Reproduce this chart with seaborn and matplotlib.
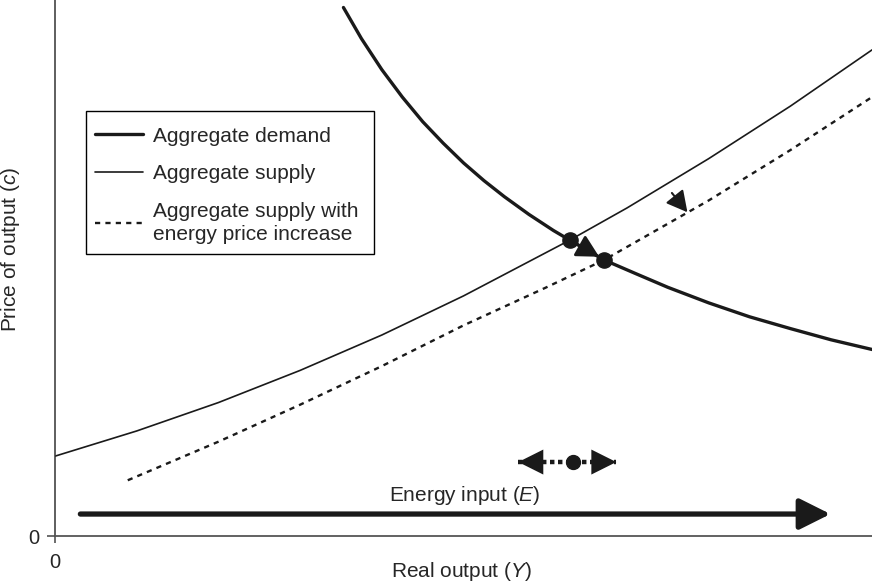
import numpy as np
import pandas as pd
import matplotlib
matplotlib.use("Agg")
import matplotlib.pyplot as plt
import matplotlib.patches as mpatches
import seaborn as sns

# Curves (x: real output, y: price of output, 0-100 scale)
demand_x = [35.3, 37.5, 40, 42.5, 45, 47.5, 50, 52.5, 55, 58, 61, 63.0, 67.2, 71, 75, 80, 85, 90, 95, 100]
demand_y = [98.6, 92.8, 87.0, 81.9, 77.3, 73.3, 69.6, 66.3, 63.3, 60.0, 57.0, 55.2, 51.5, 49.0, 46.4, 43.5, 40.9, 38.7, 36.6, 34.8]

supply_x = [0, 10, 20, 30, 40, 50, 63.0, 70, 80, 90, 100]
supply_y = [14.9, 19.6, 24.9, 30.9, 37.5, 44.8, 55.2, 61.2, 70.4, 80.2, 90.7]

supply_e_x = [8.9, 20, 30, 40, 50, 60, 67.2, 80, 90, 100]
supply_e_y = [10.4, 17.6, 24.5, 31.7, 39.3, 46.3, 51.5, 62.6, 72.0, 81.9]

eq_x = [63.0, 67.2]
eq_y = [55.2, 51.5]

energy_x = [3.1, 94.9]
energy_y = 4.1
energy_dot_x = 63.4
energy_dot_y = 13.8
energy_span = [56.7, 68.7]
shift_arrow = [(75.5, 64.0), (77.4, 60.4)]

labels = ['Aggregate demand', 'Aggregate supply',
          'Aggregate supply with\nenergy price increase']

sns.set_style("ticks")
plt.rcParams['font.family'] = ['Liberation Sans', 'DejaVu Sans']
plt.rcParams['mathtext.fontset'] = 'custom'
plt.rcParams['mathtext.rm'] = 'Liberation Sans'
plt.rcParams['mathtext.it'] = 'Liberation Sans:italic'

fig = plt.figure(figsize=(8.72, 5.82), dpi=100)
ax = fig.add_axes([0.0631, 0.079, 0.937, 0.921])

ink = '#1a1a1a'
sns.lineplot(x=demand_x, y=demand_y, ax=ax, color=ink, lw=2.4, sort=False, label=labels[0])
sns.lineplot(x=supply_x, y=supply_y, ax=ax, color=ink, lw=1.2, sort=False, label=labels[1])
sns.lineplot(x=supply_e_x, y=supply_e_y, ax=ax, color=ink, lw=1.7, sort=False,
             linestyle=(0, (2.2, 2.2)), label=labels[2])

# equilibrium points and shift arrow
ax.annotate('', xy=(eq_x[1] - 0.6, eq_y[1] + 0.6), xytext=(eq_x[0], eq_y[0]),
            arrowprops=dict(arrowstyle='-|>,head_length=0.75,head_width=0.4',
                            color=ink, lw=2, mutation_scale=18, shrinkA=0, shrinkB=0))
ax.scatter(eq_x, eq_y, s=120, color=ink, zorder=5)

ax.annotate('', xy=shift_arrow[1], xytext=shift_arrow[0],
            arrowprops=dict(arrowstyle='-|>,head_length=0.75,head_width=0.4',
                            color=ink, lw=1.5, mutation_scale=17, shrinkA=0, shrinkB=0))

# energy input arrow
ax.annotate('', xy=(energy_x[1], energy_y), xytext=(energy_x[0], energy_y),
            arrowprops=dict(arrowstyle='-|>,head_length=0.9,head_width=0.45',
                            color=ink, lw=3.8, mutation_scale=21, shrinkA=0, shrinkB=0))
ax.text(50.2, 7.5, 'Energy input ($\\it{E}$)', ha='center', va='center', fontsize=15)

# small double arrow with dotted line
ax.plot(energy_span, [energy_dot_y, energy_dot_y], color=ink, lw=3.2,
        linestyle=(0, (1, 0.8)))
ax.annotate('', xy=(energy_span[1], energy_dot_y), xytext=(energy_span[0], energy_dot_y),
            arrowprops=dict(arrowstyle='<|-|>,head_length=0.9,head_width=0.45',
                            color=ink, lw=0, mutation_scale=20, shrinkA=0, shrinkB=0))
ax.scatter([energy_dot_x], [energy_dot_y], s=100, color=ink, zorder=5)

ax.set_xlim(0, 100)
ax.set_ylim(0, 100)
ax.set_xticks([0])
ax.set_yticks([0])
ax.tick_params(axis='y', length=6, width=1.1, labelsize=14.5, color='#444444', pad=5.5)
ax.tick_params(axis='x', length=5, width=1.1, labelsize=14.5, color='#444444', pad=7)
sns.despine(ax=ax)
ax.spines['left'].set_color('#333333')
ax.spines['bottom'].set_color('#555555')
ax.spines['left'].set_linewidth(1.1)
ax.spines['bottom'].set_linewidth(1.3)

ax.set_xlabel('Real output ($\\it{Y}$)', fontsize=15)
ax.set_ylabel('Price of output ($\\it{c}$)', fontsize=15)
ax.xaxis.set_label_coords(0.498, -0.045)
ax.yaxis.set_label_coords(-0.040, 0.535)

# legend box drawn separately so its padding matches the reference
ax.add_patch(mpatches.Rectangle((0.038, 0.526), 0.352, 0.267, transform=ax.transAxes,
                                facecolor='white', edgecolor='black', lw=1.0, zorder=4))
leg = ax.legend(loc='upper left', bbox_to_anchor=(0.049, 0.764), borderaxespad=0,
                borderpad=0, frameon=False, fontsize=15, handlelength=2.3,
                labelspacing=0.9, handletextpad=0.48)
leg.get_texts()[2].set_linespacing(1.25)
leg.set_zorder(6)

plt.savefig('out.png', dpi=100)
plt.close()
